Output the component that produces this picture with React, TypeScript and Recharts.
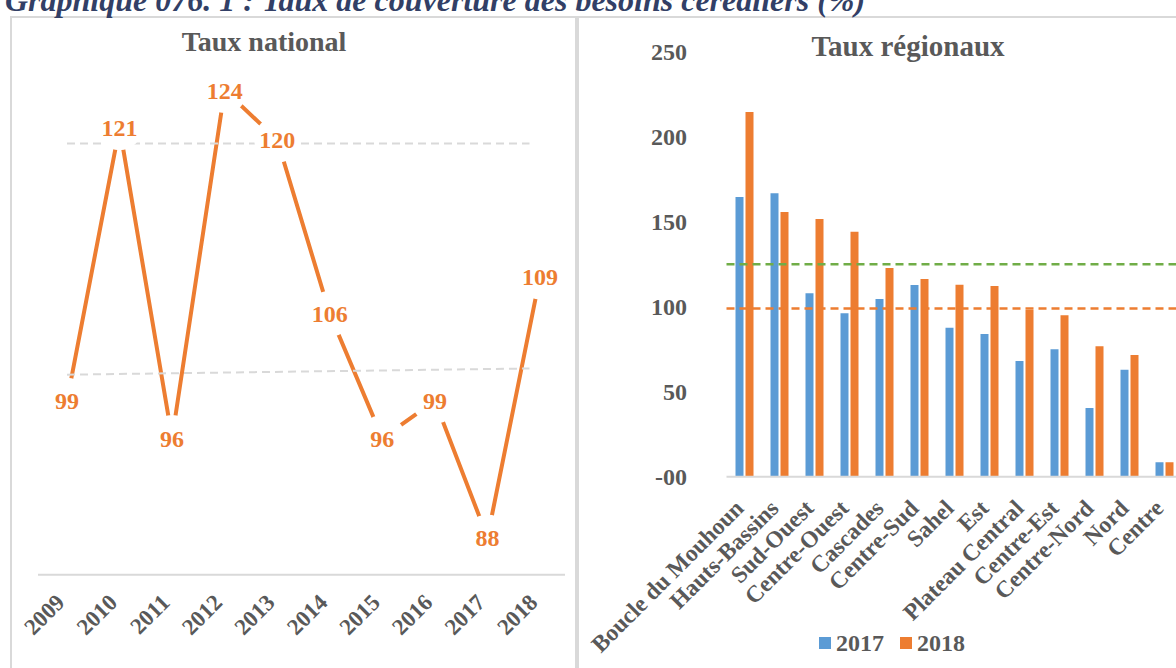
import { LineChart, Line, XAxis, YAxis, ReferenceLine, LabelList, BarChart, Bar, Legend } from "recharts"

// national coverage rate, 2009-2018
const years = ["2009", "2010", "2011", "2012", "2013", "2014", "2015", "2016", "2017", "2018"]
const nationalRate = [99, 121, 96, 124, 120, 106, 96, 99, 88, 109]

// the two grey dashed guides drawn over the national chart (index along the years, value)
const guideX = [0, 8.8]
const upperGuide = [119.7, 119.7]
const lowerGuide = [101.1, 101.6]

// regional coverage rates
const regions = [
  "Boucle du Mouhoun",
  "Hauts-Bassins",
  "Sud-Ouest",
  "Centre-Ouest",
  "Cascades",
  "Centre-Sud",
  "Sahel",
  "Est",
  "Plateau Central",
  "Centre-Est",
  "Centre-Nord",
  "Nord",
  "Centre",
]
const rate2017 = [164.5, 166.7, 107.9, 96.1, 104.5, 112.8, 87.6, 83.9, 68.1, 74.9, 40.4, 62.9, 8.5]
const rate2018 = [214.5, 155.7, 151.6, 144.1, 122.8, 116.3, 112.9, 112.2, 98.1, 94.9, 76.7, 71.6, 8.5]
const regionalTicks = [0, 50, 100, 150, 200, 250]
const thresholdGreen = 125
const thresholdOrange = 99

const BLUE = "#5B9BD5"
const ORANGE = "#ED7D31"
const GREEN = "#70AD47"
const GREY_TEXT = "#595959"
const BORDER = "#D9D9D9"
const SERIF = "'Liberation Serif', 'Times New Roman', serif"

const nationalData = years.map((year, i) => ({ year, idx: i, value: nationalRate[i] }))
const regionalData = regions.map((region, i) => ({ region, y2017: rate2017[i], y2018: rate2018[i] }))

const YearTick = (props: any) => {
  const { x, y, payload } = props
  return (
    <text
      transform={`translate(${x - 1},${y + 27}) rotate(-45)`}
      textAnchor="end"
      fontFamily={SERIF}
      fontWeight="bold"
      fontSize={23}
      fill={GREY_TEXT}
    >
      {payload.value}
    </text>
  )
}

const RegionTick = (props: any) => {
  const { x, y, payload } = props
  return (
    <text
      transform={`translate(${x + 1},${y + 31}) rotate(-45)`}
      textAnchor="end"
      fontFamily={SERIF}
      fontWeight="bold"
      fontSize={23.5}
      fill={GREY_TEXT}
    >
      {payload.value}
    </text>
  )
}

const renderLegend = (props: any) => {
  const { payload } = props
  return (
    <div style={{ display: "flex", alignItems: "center", gap: 16 }}>
      {payload.map((item: any) => (
        <div key={item.value} style={{ display: "flex", alignItems: "center", gap: 5 }}>
          <span style={{ width: 12, height: 12, background: item.color, display: "inline-block" }} />
          <span style={{ fontFamily: SERIF, fontWeight: "bold", fontSize: 24, color: GREY_TEXT, lineHeight: "24px" }}>
            {item.value}
          </span>
        </div>
      ))}
    </div>
  )
}

export default function App() {
  return (
    <div style={{ position: "relative", width: 1176, height: 668, overflow: "hidden", background: "#fff" }}>
      <style>{`body { margin: 0; }`}</style>

      {/* panel frames */}
      <div style={{ position: "absolute", left: 10, top: 16, width: 563, height: 700, border: `2px solid ${BORDER}` }} />
      <div style={{ position: "absolute", left: 577, top: 16, width: 700, height: 700, border: `2px solid ${BORDER}` }} />

      {/* national line chart */}
      <div style={{ position: "absolute", left: 0, top: 0 }}>
        <LineChart width={575} height={668} data={nationalData} margin={{ top: 77.6, right: 10, bottom: 33.2, left: 38 }}>
          <XAxis
            dataKey="year"
            height={60}
            padding={{ left: 29, right: 25 }}
            tickLine={false}
            tickSize={0}
            axisLine={{ stroke: BORDER, strokeWidth: 2 }}
            tick={<YearTick />}
            interval={0}
          />
          <XAxis xAxisId="idx" dataKey="idx" type="number" domain={[0, 9]} padding={{ left: 29, right: 25 }} hide />
          <YAxis domain={[85, 125]} hide allowDataOverflow />
          <Line
            dataKey="value"
            stroke={ORANGE}
            strokeWidth={4}
            isAnimationActive={false}
            dot={(p: any) => <circle key={`dot-${p.index}`} cx={p.cx} cy={p.cy} r={23} fill="#fff" />}
            activeDot={false}
          >
            <LabelList
              dataKey="value"
              position="center"
              fill={ORANGE}
              fontSize={24}
              fontWeight="bold"
              fontFamily={SERIF}
            />
          </Line>
          <ReferenceLine
            xAxisId="idx"
            segment={[
              { x: guideX[0], y: upperGuide[0] },
              { x: guideX[1], y: upperGuide[1] },
            ]}
            stroke={BORDER}
            strokeWidth={2}
            strokeDasharray="8 5"
          />
          <ReferenceLine
            xAxisId="idx"
            segment={[
              { x: guideX[0], y: lowerGuide[0] },
              { x: guideX[1], y: lowerGuide[1] },
            ]}
            stroke={BORDER}
            strokeWidth={2}
            strokeDasharray="8 5"
          />
        </LineChart>
      </div>

      {/* regional bar chart */}
      <div style={{ position: "absolute", left: 578, top: 0 }}>
        <BarChart
          width={622}
          height={668}
          data={regionalData}
          margin={{ top: 51.7, right: 18.5, bottom: 41.3, left: 88.5 }}
          barSize={8}
          barGap={2}
        >
          <XAxis
            dataKey="region"
            height={150}
            tickLine={false}
            tickSize={0}
            axisLine={{ stroke: BORDER, strokeWidth: 2 }}
            tick={<RegionTick />}
            interval={0}
          />
          <YAxis
            width={60}
            domain={[0, 250]}
            ticks={regionalTicks}
            axisLine={false}
            tickLine={false}
            tickSize={0}
            tickMargin={39.5}
            tickFormatter={(v: number) => (v === 0 ? "-00" : String(v))}
            tick={{ fontFamily: SERIF, fontWeight: "bold", fontSize: 24, fill: GREY_TEXT }}
          />
          <Bar dataKey="y2017" name="2017" fill={BLUE} isAnimationActive={false} />
          <Bar dataKey="y2018" name="2018" fill={ORANGE} isAnimationActive={false} />
          <ReferenceLine y={thresholdGreen} stroke={GREEN} strokeWidth={2.5} strokeDasharray="8 5" />
          <ReferenceLine y={thresholdOrange} stroke={ORANGE} strokeWidth={2.5} strokeDasharray="8 5" />
          <Legend
            content={renderLegend}
            layout="horizontal"
            verticalAlign="middle"
            align="center"
            wrapperStyle={{ position: "absolute", left: 241, top: 631, width: "auto", bottom: "auto" }}
          />
        </BarChart>
      </div>

      {/* titles */}
      <svg width={1176} height={668} style={{ position: "absolute", left: 0, top: 0, pointerEvents: "none" }}>
        <text x={5} y={11} fontFamily={SERIF} fontWeight="bold" fontStyle="italic" fontSize={32} fill="#323F66">
          Graphique 076. 1 : Taux de couverture des besoins céréaliers (%)
        </text>
        <text x={264} y={51} textAnchor="middle" fontFamily={SERIF} fontWeight="bold" fontSize={28} fill={GREY_TEXT}>
          Taux national
        </text>
        <text x={908} y={56} textAnchor="middle" fontFamily={SERIF} fontWeight="bold" fontSize={29} fill={GREY_TEXT}>
          Taux régionaux
        </text>
      </svg>
    </div>
  )
}
